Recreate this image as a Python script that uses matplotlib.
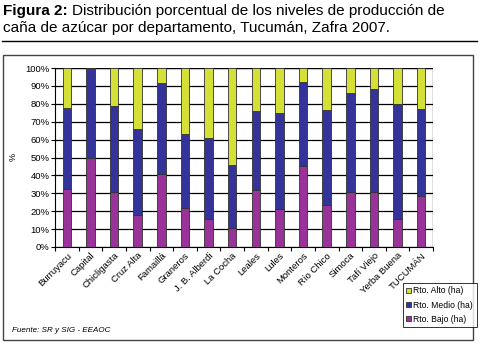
import numpy as np
import matplotlib
matplotlib.use("Agg")
import matplotlib.pyplot as plt
from matplotlib.patches import Rectangle
from matplotlib.lines import Line2D

plt.rcParams['font.family'] = ['Liberation Sans', 'DejaVu Sans']

departamentos = ["Burruyacu", "Capital", "Chicligasta", "Cruz Alta", "Famaillá",
                 "Graneros", "J. B. Alberdi", "La Cocha", "Leales", "Lules",
                 "Monteros", "Río Chico", "Simoca", "Tafí Viejo", "Yerba Buena",
                 "TUCUMÁN"]
# porcentaje acumulado: bajo, bajo + medio
rto_bajo = [32.5, 50.0, 30.5, 18.0, 41.0, 22.0, 15.5, 10.4, 32.0, 21.0,
            45.5, 23.5, 31.0, 30.5, 15.5, 28.7]
rto_bajo_medio = [77.7, 100.0, 78.8, 65.7, 91.4, 63.3, 61.0, 45.6, 76.2, 74.9,
                  92.2, 76.7, 86.2, 88.5, 79.9, 77.1]

bajo = np.array(rto_bajo)
medio = np.array(rto_bajo_medio) - bajo
alto = 100 - bajo - medio

W, H = 483, 347
fig = plt.figure(figsize=(W / 100, H / 100), dpi=100)
ax = fig.add_axes([55 / W, 1 - 247 / H, (433 - 55) / W, (247 - 68) / H])

x = np.arange(len(departamentos))
w = 0.36
c_bajo, c_medio, c_alto = "#993399", "#333399", "#d4e035"
ax.bar(x, bajo, w, color=c_bajo, edgecolor="#333333", linewidth=0.6,
       label="Rto. Bajo (ha)", zorder=3)
ax.bar(x, medio, w, bottom=bajo, color=c_medio, edgecolor="#333333",
       linewidth=0.6, label="Rto. Medio (ha)", zorder=3)
ax.bar(x, alto, w, bottom=bajo + medio, color=c_alto, edgecolor="#333333",
       linewidth=0.6, label="Rto. Alto (ha)", zorder=3)

ax.set_xlim(-0.5, len(departamentos) - 0.5)
ax.set_ylim(0, 100)
ax.set_yticks(np.arange(0, 101, 10))
ax.set_yticklabels([f"{v}%" for v in range(0, 101, 10)], fontsize=6.8)
ax.yaxis.grid(True, color="black", linewidth=0.9, zorder=0)
ax.tick_params(axis="y", length=3, width=0.8, pad=1)

ax.set_xticks(x)
ax.set_xticklabels(departamentos, rotation=45, ha="right",
                   rotation_mode="anchor", fontsize=6.8)
ax.tick_params(axis="x", length=0, pad=3)
ax.set_xticks(np.arange(-0.5, len(departamentos), 1), minor=True)
ax.tick_params(axis="x", which="minor", length=3, width=0.8)

for s in ["top", "right"]:
    ax.spines[s].set_visible(False)
ax.spines["left"].set_linewidth(0.8)
ax.spines["bottom"].set_linewidth(0.8)
ax.axhline(100, color="black", linewidth=0.9, zorder=0)
ax.axvline(len(departamentos) - 0.5, color="black", linewidth=0.9, zorder=0)

fig.text(13 / W, 1 - 157 / H, "%", fontsize=6.5, rotation=90,
         ha="center", va="center")

handles, labels = ax.get_legend_handles_labels()
leg = fig.legend(handles[::-1], labels[::-1], loc="upper left",
                 bbox_to_anchor=(403 / W, 1 - 283 / H), fontsize=6.2,
                 frameon=True, fancybox=False, edgecolor="black",
                 handlelength=0.5, handleheight=0.6, handletextpad=0.3,
                 borderpad=0.4, labelspacing=0.6, borderaxespad=0)
leg.get_frame().set_linewidth(0.7)

fig.text(12 / W, 1 - 330 / H, "Fuente: SR y SIG - EEAOC", fontsize=5.8,
         style="italic", ha="left", va="center")

# marco del grafico y linea bajo el titulo
fig.patches.append(Rectangle((3 / W, 1 - 340 / H), (473 - 3) / W,
                             (340 - 55) / H, transform=fig.transFigure,
                             fill=False, edgecolor="#444444", linewidth=1))
fig.lines.append(Line2D([2 / W, 477 / W], [1 - 41 / H, 1 - 41 / H],
                        transform=fig.transFigure, color="black",
                        linewidth=1))

# titulo
fs_tit = 11.0
t1 = fig.text(3 / W, 1 - 11 / H, "Figura 2:", fontsize=fs_tit,
              fontweight="bold", ha="left", va="center")
fig.canvas.draw()
bb = t1.get_window_extent()
fig.text(bb.x1 / W + 4 / W, 1 - 11 / H,
         "Distribución porcentual de los niveles de producción de",
         fontsize=fs_tit, ha="left", va="center")
fig.text(3 / W, 1 - 28 / H,
         "caña de azúcar por departamento, Tucumán, Zafra 2007.",
         fontsize=fs_tit, ha="left", va="center")

fig.savefig("out.png", dpi=100)
